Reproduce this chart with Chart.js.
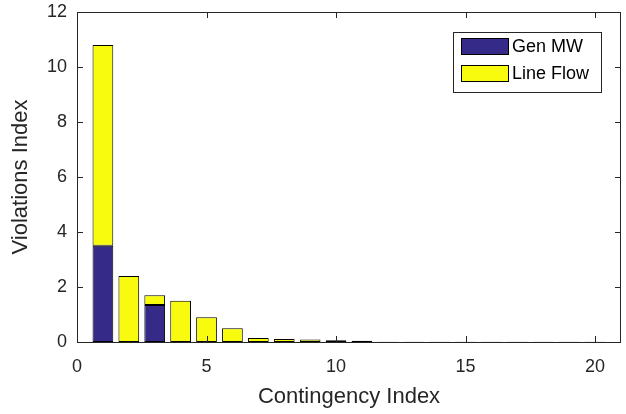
<!DOCTYPE html>
<html>
<head>
<meta charset="utf-8">
<script src="https://cdn.jsdelivr.net/npm/chart.js@4"></script>
<style>
  body { margin: 0; background: #fff; }
  #wrap { width: 626px; height: 414px; }
</style>
</head>
<body>
<div id="wrap"><canvas id="myChart" width="626" height="414"></canvas></div>
<script>
var contingency = [1,2,3,4,5,6,7,8,9,10,11,12,13,14,15,16,17,18,19,20];
var genMW    = [3.5,0,1.35,0,0,0,0,0,0,0,0,0,0,0,0,0,0,0,0,0];
var lineFlow = [7.3,2.4,0.35,1.5,0.9,0.5,0.15,0.11,0.09,0.06,0.05,0.01,0.01,0.01,0.01,0.01,0.01,0.01,0.01,0.01];
var xTicks = [0,5,10,15,20];
var yTicks = [0,2,4,6,8,10,12];

function pts(vals) {
    return contingency.map(function (c, i) { return {x: c, y: vals[i]}; });
}

const boxAndLegend = {
    id: 'boxAndLegend',
    afterDraw(chart) {
        const { ctx, chartArea: a, scales } = chart;
        ctx.save();
        ctx.strokeStyle = '#262626';
        ctx.lineWidth = 1;
        ctx.strokeRect(a.left + 0.5, a.top + 0.5, a.right - a.left - 1, a.bottom - a.top);
        // inward ticks
        ctx.beginPath();
        xTicks.forEach(function (t) {
            var px = Math.round(scales.x.getPixelForValue(t)) + 0.5;
            ctx.moveTo(px, a.bottom); ctx.lineTo(px, a.bottom - 6);
            ctx.moveTo(px, a.top); ctx.lineTo(px, a.top + 6);
        });
        yTicks.forEach(function (t) {
            var py = Math.round(scales.y.getPixelForValue(t)) + 0.5;
            ctx.moveTo(a.left, py); ctx.lineTo(a.left + 6, py);
            ctx.moveTo(a.right, py); ctx.lineTo(a.right - 6, py);
        });
        ctx.stroke();
        // legend
        var lx = 453, ly = 32, lw = 148, lh = 60;
        ctx.fillStyle = '#fff';
        ctx.fillRect(lx, ly, lw, lh);
        ctx.strokeStyle = '#262626';
        ctx.strokeRect(lx + 0.5, ly + 0.5, lw, lh);
        ctx.font = '18px "Liberation Sans", Arial, sans-serif';
        ctx.textBaseline = 'middle';
        chart.data.datasets.forEach(function (ds, i) {
            var sy = ly + 6 + i * 27;
            ctx.fillStyle = ds.backgroundColor;
            ctx.fillRect(lx + 8, sy, 47, 16);
            ctx.strokeStyle = '#000';
            ctx.strokeRect(lx + 8.5, sy + 0.5, 47, 16);
            ctx.fillStyle = '#000';
            ctx.fillText(ds.label, lx + 59, sy + 9);
        });
        ctx.restore();
    }
};

var fam = '"Liberation Sans", Arial, sans-serif';
const ctx = document.getElementById('myChart');
new Chart(ctx, {
    type: 'bar',
    data: {
        datasets: [{
            label: 'Gen MW',
            data: pts(genMW),
            backgroundColor: '#352a87',
            borderColor: '#000',
            borderWidth: 1,
            borderSkipped: false
        }, {
            label: 'Line Flow',
            data: pts(lineFlow),
            backgroundColor: '#f9fb0e',
            borderColor: '#000',
            borderWidth: 1,
            borderSkipped: false
        }]
    },
    options: {
        responsive: false,
        animation: false,
        barPercentage: 0.8,
        categoryPercentage: 1,
        layout: { padding: { top: 12, right: 5, left: 0, bottom: 0 } },
        plugins: {
            legend: { display: false },
            tooltip: { enabled: false }
        },
        scales: {
            x: {
                type: 'linear',
                stacked: true,
                offset: false,
                min: 0, max: 21,
                afterBuildTicks: function (s) { s.ticks = xTicks.map(function (v) { return {value: v}; }); },
                grid: { display: false, drawTicks: false },
                border: { display: false },
                ticks: { color: '#262626', font: { family: fam, size: 18 }, padding: 14, maxRotation: 0 },
                title: { display: true, text: 'Contingency Index', color: '#262626', font: { family: fam, size: 22 }, padding: { top: 3 } },
                afterFit: function (s) { s.height = 72; s.paddingLeft = 0; s.paddingRight = 0; }
            },
            y: {
                stacked: true,
                min: 0, max: 12,
                afterBuildTicks: function (s) { s.ticks = yTicks.map(function (v) { return {value: v}; }); },
                grid: { display: false, drawTicks: false },
                border: { display: false },
                ticks: { color: '#262626', font: { family: fam, size: 18 }, padding: 10 },
                title: { display: true, text: 'Violations Index', color: '#262626', font: { family: fam, size: 22 }, padding: { top: 8, bottom: 0 } },
                afterFit: function (s) { s.width = 77; s.paddingTop = 0; s.paddingBottom = 0; }
            }
        }
    },
    plugins: [boxAndLegend]
});
</script>
</body>
</html>
